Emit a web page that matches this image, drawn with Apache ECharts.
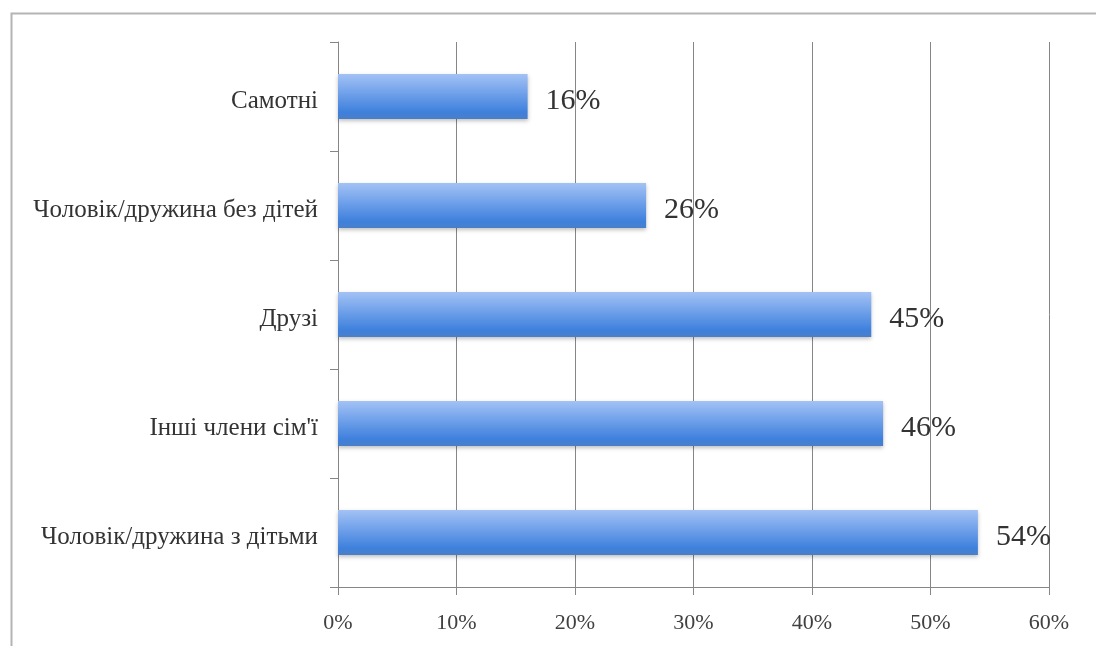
<!DOCTYPE html>
<html>
<head>
<meta charset="utf-8">
<script src="https://cdn.jsdelivr.net/npm/echarts@6/dist/echarts.min.js"></script>
<style>
html,body{margin:0;padding:0;background:#fff;}
#chart{width:1096px;height:646px;}
</style>
</head>
<body>
<div id="chart"></div>
<script>
var categories = ['Самотні', 'Чоловік/дружина без дітей', 'Друзі', 'Інші члени сім\'ї', 'Чоловік/дружина з дітьми'];
var values = [16, 26, 45, 46, 54];
var tickValues = [0, 10, 20, 30, 40, 50, 60];

var chart = echarts.init(document.getElementById('chart'));
var serif = '"Liberation Serif", "DejaVu Serif", serif';
chart.setOption({
  animation: false,
  backgroundColor: '#ffffff',
  graphic: [{
    type: 'rect',
    left: 9, top: 11,
    shape: {width: 1200, height: 800},
    style: {fill: 'none', stroke: '#b4b4b4', lineWidth: 2},
    z: -1
  }],
  grid: {left: 338, right: 47, top: 42, bottom: 59, containLabel: false},
  xAxis: {
    type: 'value',
    min: tickValues[0],
    max: tickValues[tickValues.length - 1],
    interval: 10,
    axisLine: {show: true, lineStyle: {color: '#868686', width: 1}},
    axisTick: {show: true, length: 8, lineStyle: {color: '#868686'}},
    splitLine: {show: true, lineStyle: {color: '#868686', width: 1}},
    axisLabel: {
      formatter: function (v) { return v + '%'; },
      fontFamily: serif, fontSize: 22, color: '#404040', margin: 25
    }
  },
  yAxis: {
    type: 'category',
    data: categories,
    inverse: true,
    axisLine: {show: true, lineStyle: {color: '#868686', width: 1}},
    axisTick: {show: true, length: 8, lineStyle: {color: '#868686'}},
    axisLabel: {
      margin: 20,
      formatter: function (v) { return '{a|' + v + '}'; },
      rich: {a: {fontFamily: serif, fontSize: 25, color: '#333333', padding: [10, 0, 0, 0]}}
    }
  },
  series: [{
    type: 'bar',
    data: values,
    barWidth: 45,
    itemStyle: {
      color: new echarts.graphic.LinearGradient(0, 0, 0, 1, [
        {offset: 0, color: '#a3c2f5'},
        {offset: 0.45, color: '#6d9fe9'},
        {offset: 0.85, color: '#3e80dc'},
        {offset: 1, color: '#4a7fc8'}
      ]),
      shadowColor: 'rgba(0,0,0,0.25)',
      shadowBlur: 4,
      shadowOffsetY: 2
    },
    label: {
      show: true,
      position: 'right',
      distance: 18,
      offset: [0, 5],
      formatter: function (p) { return p.value + '%'; },
      fontFamily: serif, fontSize: 30, color: '#333333'
    }
  }]
});
</script>
</body>
</html>
